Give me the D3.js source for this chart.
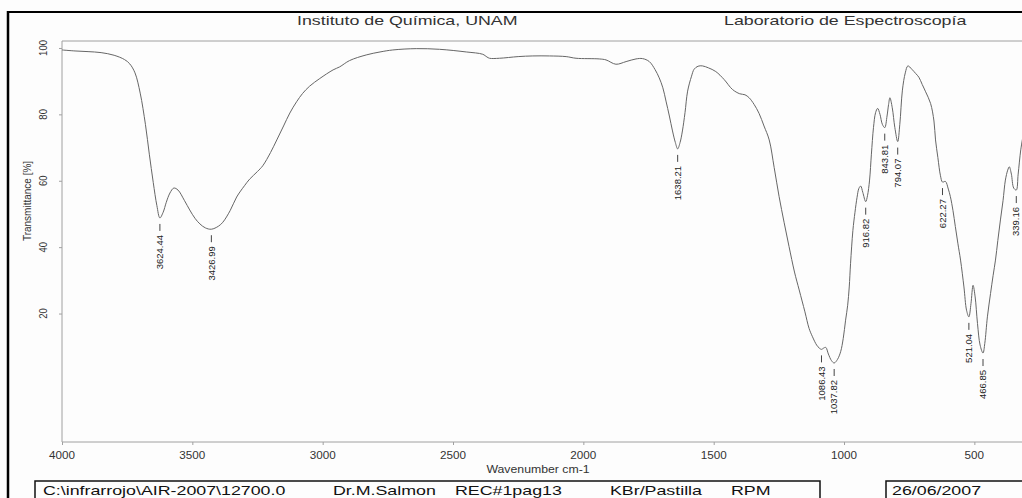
<!DOCTYPE html>
<html>
<head>
<meta charset="utf-8">
<script src="https://cdn.jsdelivr.net/npm/d3@7"></script>
<style>
  html, body { margin: 0; padding: 0; background: #fdfdfd; overflow: hidden; }
  svg { display: block; }
</style>
</head>
<body>
<svg id="chart" width="1022" height="498"></svg>
<script>
// IR spectrum (KBr pellet): wavenumber in cm-1, transmittance in %
const wavenumbers = [
  4000, 3950, 3900, 3850, 3800, 3760, 3740, 3720, 3700, 3680, 3665, 3650, 3636,
  3612, 3600, 3586, 3571, 3555, 3530, 3510, 3490, 3471, 3450,
  3400, 3383, 3355, 3330, 3300, 3280, 3250, 3230, 3200, 3176, 3150, 3126, 3100,
  3077, 3050, 3011, 2960, 2935, 2897, 2833, 2780, 2731, 2641, 2552, 2449, 2386,
  2370, 2360, 2322, 2250, 2194, 2130, 2066, 2028, 1939, 1913, 1875, 1836, 1798,
  1773, 1747, 1725, 1709, 1695, 1683, 1670, 1658, 1647,
  1629, 1620, 1610, 1600, 1585, 1575, 1560, 1543, 1520, 1492, 1460, 1428, 1400,
  1380, 1364, 1345, 1326, 1307, 1287, 1268, 1249, 1230, 1211, 1190, 1172, 1150,
  1134, 1121, 1105, 1095,
  1078, 1070, 1060, 1048,
  1025, 1013, 1003, 994, 986, 980, 975, 966, 958, 950, 943, 936, 928,
  910, 902, 895, 887, 879, 871, 862, 853,
  835, 829, 824, 815, 805,
  786, 776, 765, 755, 740, 725, 713, 700, 687, 668, 655, 649, 640, 630,
  611, 600, 592, 582, 573, 563, 553, 540, 530,
  513, 505, 497, 488, 478,
  460, 450, 438, 428, 419, 410, 400, 390, 381, 372, 366, 358, 349,
  332, 322, 310
];
const transmittance = [
  99.4, 99.1, 98.9, 98.6, 97.8, 96.5, 95.2, 92.5, 86.4, 77.0, 68.0, 59.5, 52.5,
  50.5, 53.5, 56.3, 57.8, 57.2, 54.0, 51.2, 48.7, 47.0, 45.8,
  46.3, 47.5, 51.0, 55.1, 58.5, 60.5, 62.8, 64.5, 68.5, 72.3, 76.5, 80.4, 83.8,
  86.3, 88.5, 90.8, 93.4, 94.3, 96.2, 97.9, 98.8, 99.4, 99.8, 99.6, 98.8, 98.1,
  97.3, 96.9, 96.9, 97.4, 97.6, 97.6, 97.4, 96.9, 96.7, 96.4, 95.1, 95.9, 96.7,
  96.8, 95.9, 93.5, 91.0, 88.0, 84.0, 79.5, 75.0, 71.5,
  71.5, 75.0, 80.5, 87.0, 91.5, 93.6, 94.5, 94.6, 94.0, 92.9, 90.5, 87.5, 86.2,
  85.9, 85.0, 83.0, 80.3, 76.5, 72.3, 64.0, 55.2, 47.5, 40.2, 32.5, 27.1, 20.5,
  15.5, 13.0, 10.5, 9.6,
  9.6, 9.8, 7.8, 5.8,
  6.2, 8.5, 12.5, 18.0, 22.5, 28.0, 35.0, 45.0, 50.5, 55.0, 57.7, 58.4, 56.5,
  55.5, 60.2, 68.0, 76.0, 80.5, 81.8, 80.0, 77.0,
  79.5, 83.0, 85.0, 82.0, 76.0,
  77.0, 87.3, 92.5, 94.6, 93.6, 92.3, 91.2, 89.0, 86.8, 83.3, 78.0, 72.3, 67.0, 61.5,
  59.8, 57.5, 55.2, 51.0, 46.2, 41.0, 36.1, 28.0, 21.0,
  23.0, 28.5, 25.0, 17.0, 10.5,
  11.0, 19.0, 26.0, 31.5, 36.1, 42.0, 48.2, 54.0, 60.2, 63.2, 64.2, 62.0, 57.8,
  62.0, 69.3, 75.0
];

// Labelled band positions and their transmittance
const peakWavenumbers = [3624.44, 3426.99, 1638.21, 1086.43, 1037.82, 916.82,
  843.81, 794.07, 622.27, 521.04, 466.85, 339.16];
const peakTransmittance = [48.8, 45.4, 69.6, 9.2, 5.1, 53.7,
  76.0, 71.8, 59.6, 19.0, 8.1, 57.2];

const xTicks = [4000, 3500, 3000, 2500, 2000, 1500, 1000, 500];
const yTicks = [20, 40, 60, 80, 100];

const headerLeft = "Instituto de Química, UNAM";
const headerRight = "Laboratorio de Espectroscopía";
const xTitle = "Wavenumber cm-1";
const yTitle = "Transmittance [%]";
const footerFields = ["C:\\infrarrojo\\AIR-2007\\12700.0", "Dr.M.Salmon", "REC#1pag13", "KBr/Pastilla", "RPM"];
const footerDate = "26/06/2007";

// ---------------------------------------------------------------
const svg = d3.select("#chart");
const narrow = "'Liberation Sans Narrow', 'Arial Narrow', 'Liberation Sans', Arial, sans-serif";
const sans = "'Liberation Sans', Arial, Helvetica, sans-serif";

const plot = { left: 62, top: 41, bottom: 442, right: 1026.5 };

const x = d3.scaleLinear().domain([4000, 300]).range([plot.left, plot.right]);
const y = d3.scaleLinear().domain([-18.7, 102.1]).range([plot.bottom, plot.top]);

// helper: horizontally widened text, optionally rotated to read bottom-to-top
function stretchedText(g, px, py, str, opts) {
  const rot = opts.rotate ? " rotate(-90)" : "";
  const sx = opts.stretch || 1.17;
  return g.append("text")
    .attr("transform", `translate(${px},${py}) scale(${sx},1)${rot}`)
    .attr("font-family", opts.family || sans)
    .attr("font-size", opts.size)
    .attr("fill", opts.fill || "#2a2a2a")
    .attr("text-anchor", opts.anchor || "start")
    .attr("dy", opts.dy || null)
    .text(str);
}

// page frame
svg.append("line").attr("x1", 8).attr("x2", 8).attr("y1", 11).attr("y2", 498)
  .attr("stroke", "#000").attr("stroke-width", 2.5);
svg.append("line").attr("x1", 7).attr("x2", 1022).attr("y1", 12).attr("y2", 12)
  .attr("stroke", "#000").attr("stroke-width", 2);

// header
stretchedText(svg, 297, 25, headerLeft, { size: 13, stretch: 1.37, fill: "#333" });
stretchedText(svg, 724, 25, headerRight, { size: 13, stretch: 1.37, fill: "#333" });

// plot frame top line
svg.append("line")
  .attr("x1", plot.left).attr("x2", 1022).attr("y1", plot.top).attr("y2", plot.top)
  .attr("stroke", "#a0a0a0").attr("stroke-width", 1);

// axes
const xAxis = svg.append("g").attr("transform", `translate(0,${plot.bottom})`)
  .call(d3.axisBottom(x).tickValues(xTicks).tickSize(3).tickSizeOuter(0).tickFormat(""));
const yAxis = svg.append("g").attr("transform", `translate(${plot.left},0)`)
  .call(d3.axisLeft(y).tickValues(yTicks).tickSize(3).tickSizeOuter(0).tickFormat(""));
[xAxis, yAxis].forEach(a => {
  a.select(".domain").attr("stroke", "#a0a0a0");
  a.selectAll(".tick line").attr("stroke", "#a0a0a0");
});
xAxis.select(".domain").attr("d", `M${plot.left},0H1022`);
yAxis.select(".domain").attr("d", `M0,${plot.top}V${plot.bottom}`);

// tick labels
const xLabels = svg.append("g");
xTicks.forEach(t => stretchedText(xLabels, x(t), 459, String(t), { size: 10, anchor: "middle", fill: "#333" }));
const yLabels = svg.append("g");
yTicks.forEach(t => stretchedText(yLabels, 43, y(t), String(t),
  { size: 9.5, anchor: "middle", rotate: true, dy: "0.35em", family: narrow, fill: "#333" }));

// axis titles
stretchedText(svg, 538, 473, xTitle, { size: 10.5, anchor: "middle", fill: "#333" });
stretchedText(svg, 27, 201, yTitle, { size: 10, anchor: "middle", rotate: true, dy: "0.35em", family: narrow, fill: "#333" });

// spectrum trace
const points = wavenumbers.map((w, i) => [w, transmittance[i]])
  .concat(peakWavenumbers.map((w, i) => [w, peakTransmittance[i]]))
  .sort((a, b) => b[0] - a[0]);

const line = d3.line()
  .x(d => x(d[0]))
  .y(d => y(d[1]))
  .curve(d3.curveCatmullRom.alpha(0.5));

svg.append("path")
  .datum(points)
  .attr("d", line)
  .attr("fill", "none")
  .attr("stroke", "#666")
  .attr("stroke-width", 1);

// band labels: short marker plus rotated wavenumber
const fmt = d3.format(".2f");
const peaks = svg.append("g");
peakWavenumbers.forEach((w, i) => {
  const px = x(w), py = y(peakTransmittance[i]);
  peaks.append("line")
    .attr("x1", px).attr("x2", px)
    .attr("y1", py + 6).attr("y2", py + 13)
    .attr("stroke", "#444").attr("stroke-width", 1);
  stretchedText(peaks, px, py + 17, fmt(w),
    { size: 9.5, stretch: 1.05, anchor: "end", rotate: true, dy: "0.32em", family: narrow, fill: "#222" });
});

// footer boxes
const foot = svg.append("g").attr("fill", "none").attr("stroke", "#111").attr("stroke-width", 1.5);
foot.append("path").attr("d", "M35,505V481H820V505");
foot.append("path").attr("d", "M886,505V481H1030");
const footX = [43, 333, 455, 610, 731];
footerFields.forEach((s, i) => stretchedText(svg, footX[i], 495, s, { size: 13, stretch: 1.37, fill: "#111" }));
stretchedText(svg, 892, 495, footerDate, { size: 13, stretch: 1.37, fill: "#111" });
</script>
</body>
</html>
